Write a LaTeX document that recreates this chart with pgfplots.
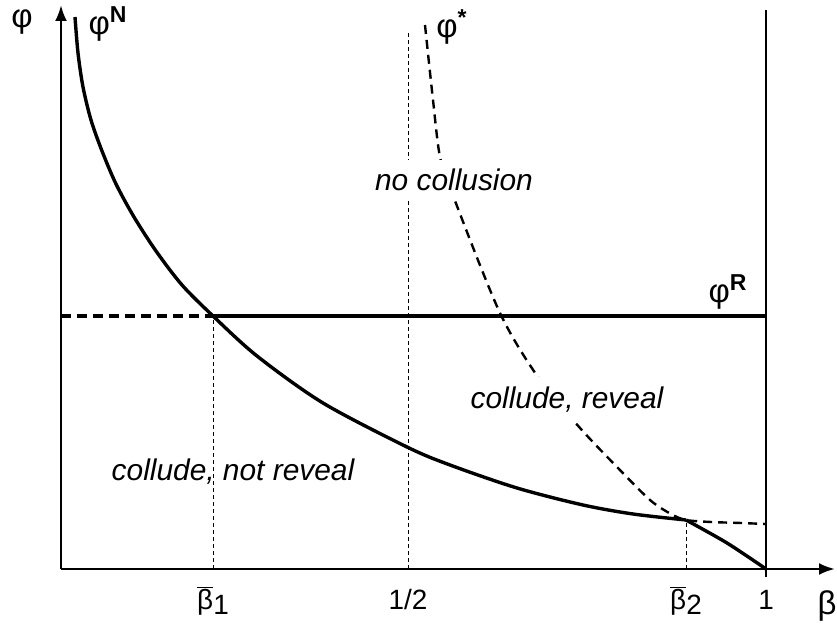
\documentclass[border=0pt]{standalone}
\usepackage{fontspec}
\setmainfont{Liberation Sans}
\usepackage{pgfplots}
\pgfplotsset{compat=1.18}
\usetikzlibrary{arrows.meta}
\newcommand{\bb}[1]{\ensuremath{\overline{\mbox{β}}}\raisebox{-2.5bp}{#1}}
\begin{document}
\begin{tikzpicture}
\begin{axis}[
  x=0.5bp, y=0.5bp,
  xmin=0, xmax=774, ymin=0, ymax=564,
  axis lines=left,
  axis line style={line width=1.3bp},
  x axis line style={-{Latex[length=8bp,width=6bp]}},
  y axis line style={-{Latex[length=8bp,width=6bp]}},
  ytick=\empty,
  xtick={152,347,625,705},
  xticklabels={\bb{1},1/2,\bb{2},1},
  major tick length=0pt,
  xticklabel style={anchor=base, yshift=-20.5bp, font=\fontsize{14}{16}\selectfont},
  clip=false,
]
% thin vertical line at beta=1 (with tick)
\addplot[line width=0.7bp] coordinates {(705,-8) (705,559)};
% dotted guides
\addplot[line width=0.5bp, dash pattern=on 2bp off 1.5bp] coordinates {(152,0) (152,253)};
\addplot[line width=0.5bp, dash pattern=on 2bp off 1.5bp] coordinates {(347,0) (347,539)};
\addplot[line width=0.5bp, dash pattern=on 2bp off 1.5bp] coordinates {(625,0) (625,49)};
% phi^R dashed part and solid part
\addplot[line width=1.6bp, dash pattern=on 5bp off 3bp] coordinates {(0,253) (152,253)};
\addplot[line width=1.8bp] coordinates {(152,253) (705,253)};
% phi* dashed
\addplot[line width=1.2bp, dash pattern=on 4.5bp off 3bp, smooth] coordinates {
 (364,544) (372,469) (379,412) (391,376) (439,256) (479,189) (519,141)
 (556,102) (589,69) (610,55) (625,49) (650,47) (680,46) (704,45)};
% phi^N solid
\addplot[line width=1.7bp, smooth] coordinates {
 (14,552) (17,516) (22,482) (30,449) (41,418) (55,385) (73,352) (95,318)
 (121,284) (152,253) (196,213) (262,166) (346,122) (389,104) (456,81)
 (522,64) (572,55) (625,49)};
\addplot[line width=1.7bp, smooth] coordinates {(625,49) (666,26) (705,0)};
% labels
\node[font=\fontsize{15}{18}\selectfont\itshape] at (axis cs:172,97) {collude, not reveal};
\node[font=\fontsize{16.5}{18}\selectfont] at (axis cs:47,545) {φ\textsuperscript{\textbf{N}}};
\node[font=\fontsize{16.5}{18}\selectfont] at (axis cs:391,542) {φ\textsuperscript{\textbf{*}}};
\node[font=\fontsize{16.5}{18}\selectfont] at (axis cs:667,277) {φ\textsuperscript{\textbf{R}}};
\node[font=\fontsize{16.5}{18}\selectfont] at (axis cs:-39,547) {φ};
\node[font=\fontsize{16.5}{18}\selectfont] at (axis cs:766,-37) {β};
\coordinate (nc) at (axis cs:393,389);
\coordinate (cr) at (axis cs:506,169);
\coordinate (bbA) at (axis cs:-61,-57);
\coordinate (bbB) at (axis cs:776,569);
\end{axis}
\node[fill=white, inner xsep=1bp, inner ysep=4.5bp, font=\fontsize{15}{18}\selectfont\itshape] at (nc) {no collusion};
\node[fill=white, inner xsep=1bp, inner ysep=5bp, font=\fontsize{15}{18}\selectfont\itshape] at (cr) {collude, reveal};
\pgfresetboundingbox
\useasboundingbox (bbA) rectangle (bbB);
\end{tikzpicture}
\end{document}
